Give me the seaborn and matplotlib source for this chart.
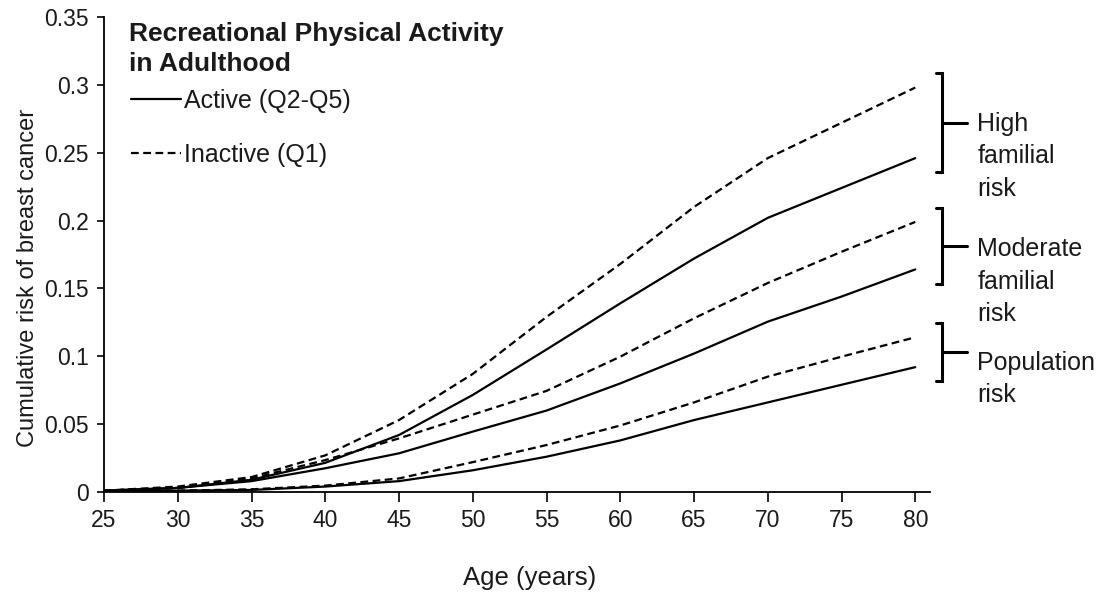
import numpy as np
import pandas as pd
import matplotlib
matplotlib.use("Agg")
import matplotlib.pyplot as plt
from matplotlib.lines import Line2D
import seaborn as sns

# ---- data ----
ages = [25, 30, 35, 40, 45, 50, 55, 60, 65, 70, 75, 80]
high_inactive = [0.001, 0.004, 0.011, 0.027, 0.053, 0.087, 0.129, 0.168, 0.210, 0.246, 0.272, 0.298]
high_active = [0.001, 0.003, 0.009, 0.0215, 0.042, 0.0715, 0.105, 0.139, 0.172, 0.202, 0.224, 0.246]
moderate_inactive = [0.001, 0.003, 0.010, 0.0235, 0.0395, 0.057, 0.0745, 0.0997, 0.128, 0.154, 0.177, 0.199]
moderate_active = [0.001, 0.003, 0.008, 0.0175, 0.0285, 0.0445, 0.060, 0.080, 0.102, 0.1255, 0.144, 0.164]
population_inactive = [0.0005, 0.001, 0.002, 0.0047, 0.010, 0.022, 0.0346, 0.049, 0.066, 0.085, 0.0997, 0.114]
population_active = [0.0005, 0.001, 0.0015, 0.004, 0.008, 0.016, 0.026, 0.038, 0.053, 0.066, 0.079, 0.092]

risk_groups = ["High\nfamilial\nrisk", "Moderate\nfamilial\nrisk", "Population\nrisk"]
activity_labels = ["Active (Q2-Q5)", "Inactive (Q1)"]
legend_title = "Recreational Physical Activity\nin Adulthood"
x_ticks = [25, 30, 35, 40, 45, 50, 55, 60, 65, 70, 75, 80]
y_ticks = [0, 0.05, 0.1, 0.15, 0.2, 0.25, 0.3, 0.35]
y_tick_labels = ["0", "0.05", "0.1", "0.15", "0.2", "0.25", "0.3", "0.35"]

series = {
    (risk_groups[0], activity_labels[0]): high_active,
    (risk_groups[0], activity_labels[1]): high_inactive,
    (risk_groups[1], activity_labels[0]): moderate_active,
    (risk_groups[1], activity_labels[1]): moderate_inactive,
    (risk_groups[2], activity_labels[0]): population_active,
    (risk_groups[2], activity_labels[1]): population_inactive,
}
rows = []
for (grp, act), vals in series.items():
    for a, v in zip(ages, vals):
        rows.append({"age": a, "risk": v, "group": grp, "activity": act,
                     "unit": grp + act})
df = pd.DataFrame(rows)

# ---- style ----
sns.set_style("ticks")
plt.rcParams["font.family"] = ["Liberation Sans", "DejaVu Sans"]
plt.rcParams["text.color"] = "#1a1a1a"
plt.rcParams["axes.labelcolor"] = "#1a1a1a"

W, H = 1106, 593
fig = plt.figure(figsize=(W / 100, H / 100), dpi=100)
ax = fig.add_axes([104 / W, 1 - 492 / H, (930 - 104) / W, (492 - 17) / H])

dash = (3.5, 2.0)
sns.lineplot(data=df, x="age", y="risk", units="unit", estimator=None,
             style="activity",
             dashes={activity_labels[0]: "", activity_labels[1]: dash},
             color="black", linewidth=1.6, legend=False, ax=ax)

ax.set_xlim(25, 81)
ax.set_ylim(0, 0.35)
ax.set_xticks(x_ticks)
ax.set_yticks(y_ticks)
ax.set_yticklabels(y_tick_labels)
ax.tick_params(axis="both", labelsize=16.5, colors="black", labelcolor="#1a1a1a",
               width=1.2, direction="out")
ax.tick_params(axis="x", length=7, pad=5)
ax.tick_params(axis="y", length=5, pad=6)
for s in ["left", "bottom"]:
    ax.spines[s].set_linewidth(1.3)
    ax.spines[s].set_color("black")
sns.despine(ax=ax)
ax.set_xlabel("Age (years)", fontsize=18.5)
ax.set_ylabel("Cumulative risk of breast cancer", fontsize=17)
ax.xaxis.set_label_coords((530 - 104) / 826, -(578 - 492) / 475)
ax.yaxis.set_label_coords(-(104 - 28) / 826, (492 - 278) / 475)
ax.xaxis.label.set_va("center")
ax.yaxis.label.set_va("center")

# ---- legend ----
fig.text(129 / W, 1 - 22 / H, legend_title, fontsize=19, fontweight="bold",
         va="top", ha="left", linespacing=1.3)
handles = [Line2D([], [], color="black", lw=1.6, ls="-"),
           Line2D([], [], color="black", lw=1.6, ls=(0, dash))]
ax.legend(handles, activity_labels, loc="upper left", frameon=False,
          bbox_to_anchor=(131 / W, 1 - 89 / H), bbox_transform=fig.transFigure,
          fontsize=18, handlelength=2.0, handletextpad=0.12,
          labelspacing=1.2, borderpad=0, borderaxespad=0)

# ---- brackets ----
ends = [(high_inactive[-1], high_active[-1]),
        (moderate_inactive[-1], moderate_active[-1]),
        (population_inactive[-1], population_active[-1])]
label_offsets = [8, 6, 1]
pad = 0.0105
xb, xs, xm, xt = 81.8, 81.4, 83.5, 84.2
for label, (top_v, bot_v), off in zip(risk_groups, ends, label_offsets):
    top, bot = top_v + pad, bot_v - pad
    mid = (top + bot) / 2
    ax.plot([xs, xb, xb, xs], [top, top, bot, bot], color="black", lw=2.2,
            clip_on=False, solid_joinstyle="miter")
    ax.plot([xb, xm], [mid, mid], color="black", lw=2.2, clip_on=False)
    ax.annotate(label, xy=(xt, mid), xytext=(0, off), textcoords="offset points",
                fontsize=18, va="top", ha="left", annotation_clip=False,
                linespacing=1.45)

fig.savefig("out.png", dpi=100)
